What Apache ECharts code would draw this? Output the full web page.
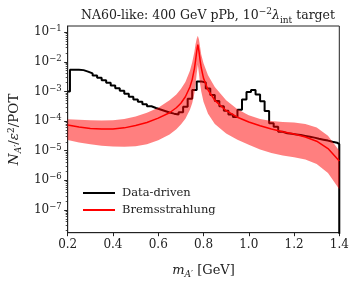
<!DOCTYPE html>
<html><head><meta charset="utf-8">
<script src="https://cdn.jsdelivr.net/npm/echarts@6/dist/echarts.min.js"></script>
<style>html,body{margin:0;padding:0;background:#fff}#c{width:357px;height:285px}</style>
</head><body><div id="c"></div>
<script>
// Data-driven histogram: bin left edges (GeV) and log10(N/eps^2/POT)
const binEdges = [0.19,0.21,0.23,0.25,0.27,0.29,0.31,0.33,0.35,0.37,0.39,0.41,0.43,0.45,0.47,0.49,0.51,0.53,0.55,0.57,0.59,0.61,0.63,0.65,0.67,0.69,0.71,0.73,0.75,0.77,0.79,0.81,0.83,0.85,0.87,0.89,0.91,0.93,0.95,0.97,0.99,1.01,1.03,1.05,1.07,1.09,1.11,1.13,1.15,1.17,1.19,1.21,1.23,1.25,1.27,1.29,1.31,1.33,1.35,1.37,1.39];
const dataDriven = [-3.00,-2.27,-2.27,-2.28,-2.33,-2.39,-2.46,-2.54,-2.62,-2.71,-2.80,-2.89,-2.98,-3.08,-3.18,-3.27,-3.35,-3.43,-3.50,-3.56,-3.61,-3.66,-3.71,-3.75,-3.78,-3.70,-3.52,-3.25,-2.95,-2.66,-2.70,-2.90,-3.12,-3.32,-3.50,-3.65,-3.78,-3.86,-3.62,-3.27,-3.02,-2.95,-3.10,-3.33,-3.66,-4.07,-4.19,-4.36,-4.41,-4.43,-4.45,-4.47,-4.50,-4.53,-4.56,-4.60,-4.63,-4.66,-4.70,-4.73,-4.78];
// Bremsstrahlung prediction: mass grid, central, upper and lower (log10)
const bremsX = [0.20,0.25,0.30,0.35,0.40,0.45,0.50,0.55,0.60,0.65,0.68,0.70,0.72,0.74,0.75,0.76,0.765,0.77,0.775,0.78,0.785,0.79,0.80,0.82,0.85,0.90,0.95,1.00,1.05,1.10,1.15,1.20,1.25,1.30,1.35,1.40];
const bremsCenter = [-4.13,-4.20,-4.25,-4.27,-4.27,-4.23,-4.15,-4.05,-3.90,-3.72,-3.55,-3.40,-3.18,-2.85,-2.60,-2.22,-1.95,-1.65,-1.42,-1.65,-1.95,-2.20,-2.55,-2.95,-3.30,-3.65,-3.87,-4.03,-4.16,-4.27,-4.36,-4.44,-4.54,-4.68,-4.93,-5.35];
const bremsUpper = [-3.94,-3.96,-3.97,-3.98,-3.97,-3.93,-3.85,-3.72,-3.55,-3.30,-3.10,-2.92,-2.68,-2.30,-2.02,-1.65,-1.40,-1.22,-1.12,-1.25,-1.50,-1.75,-2.05,-2.45,-2.85,-3.30,-3.60,-3.80,-3.93,-4.00,-4.03,-4.05,-4.10,-4.22,-4.50,-5.00];
const bremsLower = [-4.64,-4.72,-4.78,-4.83,-4.86,-4.87,-4.85,-4.78,-4.65,-4.45,-4.28,-4.12,-3.92,-3.62,-3.40,-3.05,-2.75,-2.40,-2.10,-2.40,-2.75,-3.00,-3.35,-3.75,-4.10,-4.42,-4.63,-4.80,-4.96,-5.08,-5.16,-5.22,-5.30,-5.45,-5.75,-6.30];
const yTickExps = [-7,-6,-5,-4,-3,-2,-1];
const xMin = 0.2, xMax = 1.4, yMin = -7.77, yMax = -0.79;

const minorTicks = [];
for (let n = -8; n <= -1; n++) for (let k = 2; k <= 9; k++) {
  const v = n + Math.log10(k);
  if (v > yMin && v < yMax) minorTicks.push(v);
}
const stepData = binEdges.map((e, i) => [Math.max(e, xMin), dataDriven[i]]);
stepData.push([xMax, dataDriven[dataDriven.length - 1]]);
stepData.push([xMax, -9]);

const FONT = 'DejaVu Serif';
const TXT = '#222';
const chart = echarts.init(document.getElementById('c'), null, {renderer: 'canvas'});
chart.setOption({
  animation: false,
  title: {
    text: 'NA60-like: 400 GeV pPb, 10{sup|−2}{it|λ}{sub|int} target',
    left: 203, top: 2, textAlign: 'center',
    textStyle: {
      fontFamily: FONT, fontSize: 12.5, fontWeight: 'normal', color: TXT, lineHeight: 18,
      rich: {
        sup: {fontFamily: FONT, fontSize: 9, color: TXT, verticalAlign: 'top', lineHeight: 11},
        sub: {fontFamily: FONT, fontSize: 9, color: TXT, verticalAlign: 'bottom', lineHeight: 11},
        it: {fontFamily: FONT, fontSize: 12.5, fontStyle: 'italic', color: TXT, lineHeight: 18}
      }
    }
  },
  grid: {left: 67.7, right: 17.7, top: 26, bottom: 52.3, show: true, borderColor: '#222', borderWidth: 1,
         backgroundColor: 'transparent', containLabel: false, outerBoundsMode: 'none'},
  legend: {
    orient: 'vertical', left: 78, top: 182, itemWidth: 32, itemHeight: 2, itemGap: 5,
    textStyle: {fontFamily: FONT, fontSize: 11.5, color: TXT, padding: [0, 0, 0, 2]},
    data: [{name: 'Data-driven', icon: 'rect'}, {name: 'Bremsstrahlung', icon: 'rect'}]
  },
  xAxis: {
    type: 'value', min: xMin, max: xMax, interval: 0.2,
    axisLine: {show: true, onZero: false, lineStyle: {color: '#222', width: 1}},
    axisTick: {show: true, length: 3.5, lineStyle: {color: '#222'}},
    axisLabel: {fontFamily: FONT, fontSize: 12, color: TXT, margin: 6, formatter: v => v.toFixed(1)},
    splitLine: {show: false},
    name: '{it|m}{sub|A′} [GeV]', nameLocation: 'middle', nameGap: 30,
    nameTextStyle: {fontFamily: FONT, fontSize: 13, color: TXT, lineHeight: 16,
      rich: {it: {fontFamily: FONT, fontSize: 13, fontStyle: 'italic', color: TXT, lineHeight: 16},
             sub: {fontFamily: FONT, fontSize: 9, fontStyle: 'italic', color: TXT, verticalAlign: 'bottom', lineHeight: 9}}}
  },
  yAxis: [{
    type: 'value', min: yMin, max: yMax,
    axisLine: {show: true, onZero: false, lineStyle: {color: '#222', width: 1}},
    axisTick: {show: true, length: 3.5, customValues: yTickExps, lineStyle: {color: '#222'}},
    axisLabel: {customValues: yTickExps, margin: 6,
      formatter: v => '{b|10}{s|−' + Math.abs(v) + '}',
      rich: {b: {fontFamily: FONT, fontSize: 12, color: TXT, lineHeight: 15},
             s: {fontFamily: FONT, fontSize: 8.5, color: TXT, verticalAlign: 'top', lineHeight: 9}}},
    splitLine: {show: false},
    name: '{it|N}{sub|A′}/{it|ε}{sup|2}/POT', nameLocation: 'middle', nameRotate: 90, nameGap: 45,
    nameTextStyle: {fontFamily: FONT, fontSize: 13.5, color: TXT, lineHeight: 16,
      rich: {it: {fontFamily: FONT, fontSize: 13.5, fontStyle: 'italic', color: TXT, lineHeight: 16},
             sub: {fontFamily: FONT, fontSize: 9, fontStyle: 'italic', color: TXT, verticalAlign: 'bottom', lineHeight: 9},
             sup: {fontFamily: FONT, fontSize: 9, color: TXT, verticalAlign: 'top', lineHeight: 9}}}
  }, {
    type: 'value', min: yMin, max: yMax, position: 'left',
    axisLine: {show: false},
    axisTick: {show: true, length: 2, customValues: minorTicks, lineStyle: {color: '#222', width: 0.8}},
    axisLabel: {show: false}, splitLine: {show: false}
  }],
  series: [
    {
      name: 'Data-driven', type: 'line', step: 'end', data: stepData, symbol: 'none',
      lineStyle: {color: '#000', width: 2}, itemStyle: {color: '#000'}, z: 2, clip: true
    },
    {
      name: 'band', type: 'custom', data: [[0]], z: 3, clip: true,
      renderItem: (params, api) => {
        const pts = [];
        for (let i = 0; i < bremsX.length; i++) pts.push(api.coord([bremsX[i], bremsUpper[i]]));
        for (let i = bremsX.length - 1; i >= 0; i--) pts.push(api.coord([bremsX[i], bremsLower[i]]));
        return {type: 'polygon', shape: {points: pts}, style: {fill: 'rgba(255,0,0,0.5)'}};
      }
    },
    {
      name: 'Bremsstrahlung', type: 'line', data: bremsX.map((x, i) => [x, bremsCenter[i]]), symbol: 'none',
      lineStyle: {color: '#f00', width: 1.5}, itemStyle: {color: '#f00'}, z: 4, clip: true
    }
  ]
});
</script></body></html>
